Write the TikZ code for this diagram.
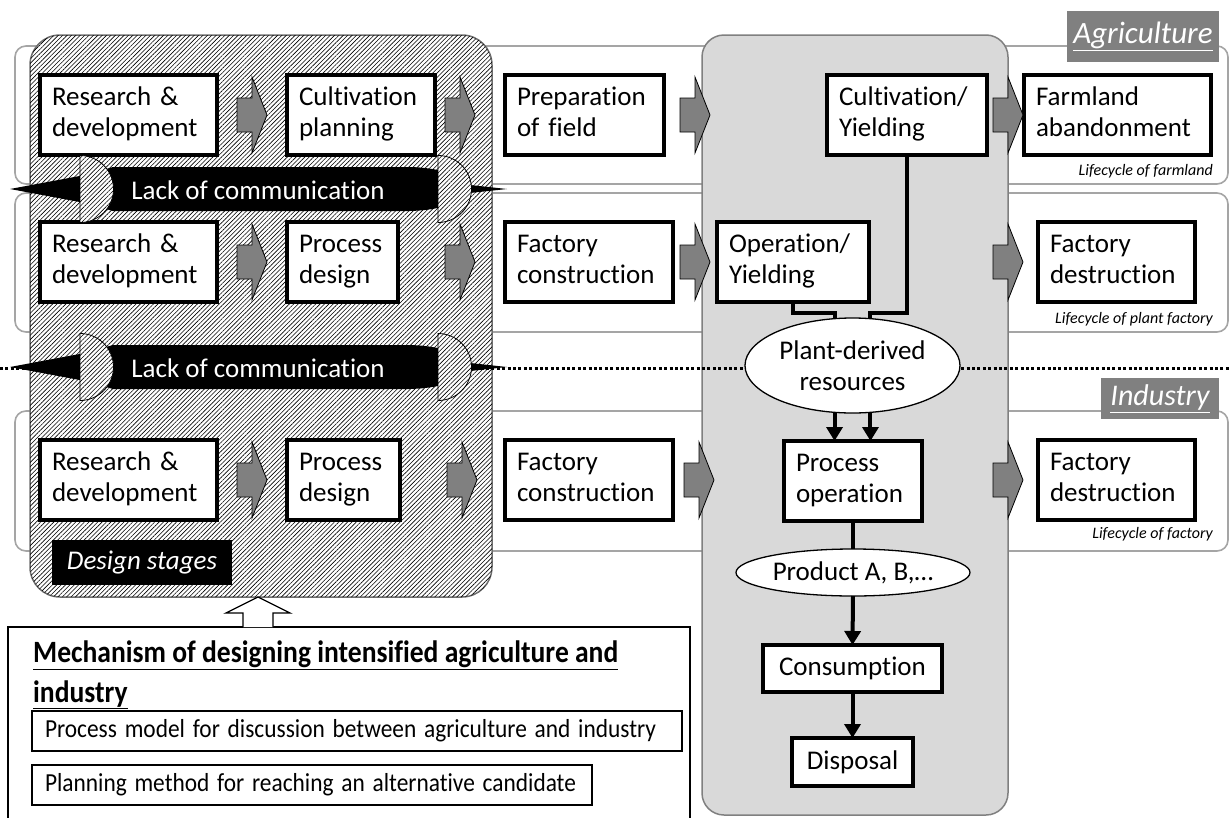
\documentclass[tikz,border=0pt]{standalone}
\usepackage{fontspec}
\setmainfont{Carlito}[Ligatures=NoCommon]
\usetikzlibrary{calc,shapes.geometric,arrows.meta,patterns.meta}

\definecolor{bandline}{RGB}{165,165,165}
\definecolor{colfill}{RGB}{217,217,217}
\definecolor{colline}{RGB}{128,128,128}
\definecolor{tagfill}{RGB}{128,128,128}
\definecolor{arrfill}{RGB}{128,128,128}
\definecolor{desline}{RGB}{110,110,110}

\tikzset{
  band/.style={draw=bandline, line width=1.6pt, fill=white, rounded corners=11pt},
  hatched/.style={fill=white, postaction={pattern={Lines[angle=45,distance=3.1pt,line width=0.6pt]}, pattern color=black}},
  stage/.style={draw, line width=3.5pt, fill=white, anchor=north west, align=left,
    inner xsep=12pt, inner ysep=0pt, outer sep=0pt, minimum height=80pt,
    font=\fontsize{27}{31}\selectfont,
    execute at begin node=\strut, execute at end node=\strut},
  plainbox/.style={draw, line width=3.5pt, fill=white, inner sep=0pt, outer sep=0pt,
    font=\fontsize{27}{31}\selectfont},
  res/.style={ellipse, draw, line width=1.3pt, fill=white, inner sep=0pt, outer sep=0pt,
    align=center, font=\fontsize{27}{31}\selectfont},
  tag/.style={fill=tagfill, text=white, inner sep=0pt, outer sep=0pt, anchor=north west},
  cycletxt/.style={anchor=base east, inner sep=0pt, font=\itshape\fontsize{16}{18}\selectfont},
  lacktxt/.style={text=white, inner sep=0pt, font=\fontsize{27}{31}\selectfont},
  conn/.style={line width=4pt, draw=black},
  tip/.style={-{Triangle[width=16pt,length=14pt]}},
  mbox/.style={draw, line width=1.3pt, anchor=north west, align=left, inner xsep=13pt,
    inner ysep=0pt, outer sep=0pt, font=\fontsize{26}{30}\selectfont},
  blockarrow/.pic={
    \draw[fill=arrfill, line width=0.8pt, line join=miter]
      (0,-17) -- (15,-17) -- (15,-38) -- (30,0) -- (15,38) -- (15,17) -- (0,17) -- cycle;
  },
  lackbar/.pic={
    \fill[black] (10,0) -- (85,-14) -- (113,-22) -- (410,-22)
      .. controls (445,-21) and (462,-12) .. (470,-4) -- (507,0) -- (470,4)
      .. controls (462,12) and (445,21) .. (410,22) -- (113,22) -- (85,14) -- cycle;
    \draw[hatched, line width=0.8pt] (80,-33.5) arc[start angle=-90, end angle=90, radius=33.5] -- cycle;
    \draw[hatched, line width=0.8pt] (438,-33.5) arc[start angle=-90, end angle=90, radius=33.5] -- cycle;
  },
}

\begin{document}
\begin{tikzpicture}[x=1pt,y=-1pt]
\path[use as bounding box, clip] (0,0) rectangle (1229,817);

% lifecycle bands
\draw[band] (15,46) rectangle (1228,184);
\draw[band] (15,193) rectangle (1228,332);
\draw[band] (15,411) rectangle (1228,551);

% sector labels
\node[tag, minimum width=152pt, minimum height=51pt, font=\itshape\fontsize{31}{31}\selectfont]
  (agri) at (1067,11) {\underline{Agriculture}};
\node[tag, minimum width=118pt, minimum height=41pt, font=\itshape\fontsize{30}{30}\selectfont]
  (indu) at (1101,378) {\underline{Industry}};

% design stage region and operation column
\draw[hatched, draw=desline, line width=1.5pt, rounded corners=30pt] (30,35) rectangle (492,597);
\draw[fill=colfill, draw=colline, line width=1.5pt, rounded corners=22pt] (702,35) rectangle (1008,815);

% border between agriculture and industry
\coordinate (dl) at (0,368);
\coordinate (dr) at (1229,368);
\draw[line width=3pt, dash pattern=on 3pt off 2.4pt] (dl) -- (dr);

% row 1: farmland
\node[stage, text width=153pt] (rd1) at (40,75) {Research \&\\development};
\node[stage, text width=124pt] (cp) at (287,75) {Cultivation\\planning};
\node[stage, text width=135pt] (prep) at (505,75) {Preparation\\of field};
\node[stage, text width=136pt] (cy) at (827,75) {Cultivation/\\Yielding};
\node[stage, text width=163pt] (fa) at (1024,75) {Farmland\\abandonment};
\node[cycletxt] (lc1) at (1213,175) {Lifecycle of farmland};

% row 2: plant factory
\node[stage, text width=153pt] (rd2) at (40,222) {Research \&\\development};
\node[stage, text width=87pt] (pd2) at (287,222) {Process\\design};
\node[stage, text width=144pt] (fc2) at (505,222) {Factory\\construction};
\node[stage, text width=128pt] (oy) at (717,222) {Operation/\\Yielding};
\node[stage, text width=133pt] (fd2) at (1038,222) {Factory\\destruction};
\node[cycletxt] (lc2) at (1213,323) {Lifecycle of plant factory};

% row 3: factory
\node[stage, text width=153pt] (rd3) at (40,440) {Research \&\\development};
\node[stage, text width=89pt] (pd3) at (287,440) {Process\\design};
\node[stage, text width=144pt] (fc3) at (505,440) {Factory\\construction};
\node[stage, text width=114pt] (po) at (784,441) {Process\\operation};
\node[stage, text width=133pt] (fd3) at (1038,440) {Factory\\destruction};
\node[cycletxt] (lc3) at (1213,538) {Lifecycle of factory};

% stage-to-stage block arrows
\pic at ($(rd1.east)+(20,0)$) {blockarrow};
\pic at ($(cp.east)+(10,0)$) {blockarrow};
\pic at ($(prep.east)+(16,0)$) {blockarrow};
\pic at ($(cy.east)+(6,0)$) {blockarrow};
\pic at ($(rd2.east)+(20,0)$) {blockarrow};
\pic at ($(pd2.east)+(47,0)$) {blockarrow};
\pic at ($(fc2.east)+(7,0)$) {blockarrow};
\pic at ($(fd2.west)+(-45,0)$) {blockarrow};
\pic at ($(rd3.east)+(20,0)$) {blockarrow};
\pic at ($(pd3.east)+(47,0)$) {blockarrow};
\pic at ($(fc3.east)+(11,0)$) {blockarrow};
\pic at ($(fd3.west)+(-45,0)$) {blockarrow};

% material flow
\node[res, minimum width=215pt, minimum height=95pt] (plant) at (852.5,365.5) {Plant-derived\\resources};
\node[res, minimum width=234pt, minimum height=47pt] (prod) at (853,572.5) {Product A, B,…};
\node[plainbox, minimum width=179pt, minimum height=47pt] (cons) at (852.5,668.5) {Consumption};
\node[plainbox, minimum width=121pt, minimum height=48pt] (disp) at (852.5,762) {Disposal};

\draw[conn] (cy.south) -- ++(0,158) -| (plant.69);
\draw[conn] (oy.south) -- ++(0,11) -| (plant.111);
\draw[conn, tip] (plant.249) -- (plant.249 |- po.north);
\draw[conn, tip] (plant.291) -- (plant.291 |- po.north);
\draw[conn] (po.south) -- (prod.north);
\draw[conn, tip] (prod.south) -- (cons.north);
\draw[conn, tip] (cons.south) -- (disp.north);

% communication gaps
\pic at (0,189) {lackbar};
\node[lacktxt] (lack1) at (258,190) {Lack of communication};
\pic at (0,367) {lackbar};
\node[lacktxt] (lack2) at (258,368) {Lack of communication};

\node[tag, fill=black, minimum width=180pt, minimum height=45pt, font=\itshape\fontsize{27}{31}\selectfont]
  (dstag) at (52,540) {Design stages};

% design mechanism
\node[draw, line width=1.3pt, minimum width=682pt, minimum height=220pt, anchor=north west,
  inner sep=0pt, outer sep=0pt] (mech) at (8,627) {};
\draw[fill=white, line width=1.3pt] ($(mech.north west)+(235,0)$) -- ++(0,-14) -- ++(-17,0)
  -- ++(32,-16) -- ++(32,16) -- ++(-17,0) -- ++(0,14);
\node[anchor=north west, inner sep=0pt] (mtitle) at (33,637)
  {\resizebox{585pt}{\height}{\bfseries\fontsize{31}{36}\selectfont
   \begin{tabular}{@{}l@{}}\underline{Mechanism of designing intensified agriculture and}\\[4pt]
   \underline{industry}\end{tabular}}};
\node[mbox, text width=624pt, minimum height=40pt] (pm) at (32,711)
  {\resizebox{611pt}{\height}{Process model for discussion between agriculture and industry}};
\node[mbox, text width=534pt, minimum height=40pt] (plm) at (32,765)
  {\resizebox{531pt}{\height}{Planning method for reaching an alternative candidate}};
\end{tikzpicture}
\end{document}
